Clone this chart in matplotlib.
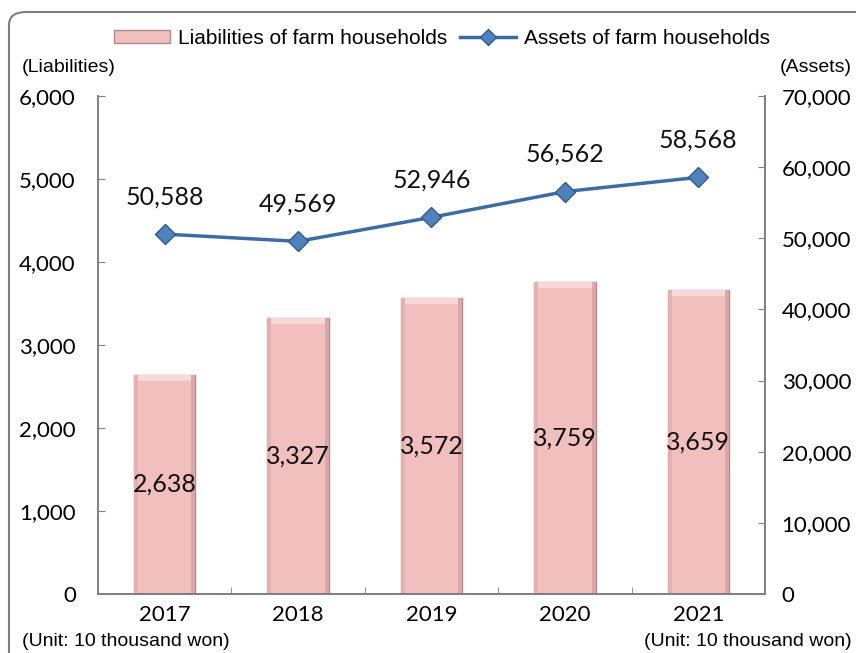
import matplotlib.pyplot as plt
from matplotlib.patches import FancyBboxPatch
from matplotlib.lines import Line2D
from matplotlib.patches import Patch
import numpy as np

years = ['2017', '2018', '2019', '2020', '2021']
liabilities = [2638, 3327, 3572, 3759, 3659]
assets = [50588, 49569, 52946, 56562, 58568]

NUM_FONT = ['Lato', 'DejaVu Sans']
TXT_FONT = ['Liberation Sans Narrow', 'Liberation Sans', 'DejaVu Sans']

BAR_FACE = '#f2bfbf'
BAR_EDGE = '#b08a8a'
LINE_COL = '#3c6ca4'

W, H = 856, 653
fig = plt.figure(figsize=(W / 100, H / 100), dpi=100)

# rounded outer frame (runs off the right and bottom edge)
frame = FancyBboxPatch((9 / W, -40 / H), (W + 40) / W, (H + 28) / H,
                       boxstyle='round,pad=0,rounding_size=0.02',
                       transform=fig.transFigure, fill=False,
                       edgecolor='#7f7f7f', linewidth=1.5, clip_on=False)
fig.patches.append(frame)

ax = fig.add_axes([98 / W, 1 - 594 / H, 667 / W, 498 / H])
ax2 = ax.twinx()

x = np.arange(len(years))
bw = 0.46
ax.bar(x, liabilities, width=bw, color=BAR_FACE, edgecolor=BAR_EDGE,
       linewidth=1.0, zorder=2)
# bevel shading: slightly darker sides, lighter top
ax.bar(x - bw / 2 + 0.015, liabilities, width=0.03, color='#e3b1b1',
       linewidth=0, zorder=2.1)
ax.bar(x + bw / 2 - 0.015, liabilities, width=0.03, color='#dba7a7',
       linewidth=0, zorder=2.1)
ax.bar(x, [70] * len(x), bottom=np.array(liabilities) - 72, width=bw - 0.06,
       color='#f8d8d8', linewidth=0, zorder=2.2)

ax.set_xlim(-0.5, len(years) - 0.5)
ax.set_ylim(0, 6000)
ax.set_yticks(range(0, 6001, 1000))
ax.set_yticklabels([f'{v:,}' for v in range(0, 6001, 1000)], family=NUM_FONT, fontsize=16)
ax.set_xticks(x)
ax.set_xticklabels(years, family=NUM_FONT, fontsize=16)
ax.set_xticks(np.arange(0.5, len(years) - 1, 1), minor=True)
ax.tick_params(axis='x', which='major', length=0, pad=8)
ax.tick_params(axis='x', which='minor', direction='in', length=5, color='#7f7f7f')
ax.tick_params(axis='y', direction='in', length=5, color='#7f7f7f', pad=16)

for i, v in enumerate(liabilities):
    ax.text(i, v / 2, f'{v:,}', ha='center', va='center', family=NUM_FONT,
            fontsize=18, color='#111111', zorder=3)

ax2.plot(x, assets, color=LINE_COL, linewidth=2.5, marker='D', markersize=10,
         markerfacecolor='#4f81bd', markeredgecolor='#2f5b8e', zorder=4)
ax2.set_ylim(0, 70000)
ax2.set_yticks(range(0, 70001, 10000))
ax2.set_yticklabels([f'{v:,}' for v in range(0, 70001, 10000)], family=NUM_FONT, fontsize=16)
ax2.tick_params(axis='y', direction='in', length=5, color='#7f7f7f', pad=12)

for i, v in enumerate(assets):
    ax2.annotate(f'{v:,}', (i, v), xytext=(0, 27), textcoords='offset points',
                 ha='center', va='center', family=NUM_FONT, fontsize=18, color='#111111')

for a in (ax, ax2):
    a.spines['top'].set_visible(False)
    for s in ('left', 'right', 'bottom'):
        a.spines[s].set_color('#7f7f7f')
        a.spines[s].set_linewidth(1.2)

# legend
handles = [Patch(facecolor=BAR_FACE, edgecolor=BAR_EDGE),
           Line2D([], [], color=LINE_COL, linewidth=2.5, marker='D', markersize=8,
                  markerfacecolor='#4f81bd', markeredgecolor='#2f5b8e')]
fig.legend(handles, ['Liabilities of farm households', 'Assets of farm households'],
           loc='center', bbox_to_anchor=(442 / W, 1 - 38 / H), ncol=2, frameon=False,
           prop={'family': TXT_FONT, 'size': 15}, handlelength=2.7, handleheight=0.6,
           columnspacing=0.6, handletextpad=0.4)

fig.text(22 / W, 1 - 68 / H, '(Liabilities)', family=TXT_FONT, fontsize=14, va='center', ha='left')
fig.text(852 / W, 1 - 68 / H, '(Assets)', family=TXT_FONT, fontsize=14, va='center', ha='right')
fig.text(22 / W, 1 - 641 / H, '(Unit: 10 thousand won)', family=TXT_FONT, fontsize=14, va='center', ha='left')
fig.text(852 / W, 1 - 641 / H, '(Unit: 10 thousand won)', family=TXT_FONT, fontsize=14, va='center', ha='right')

fig.savefig('out.png', dpi=100)
